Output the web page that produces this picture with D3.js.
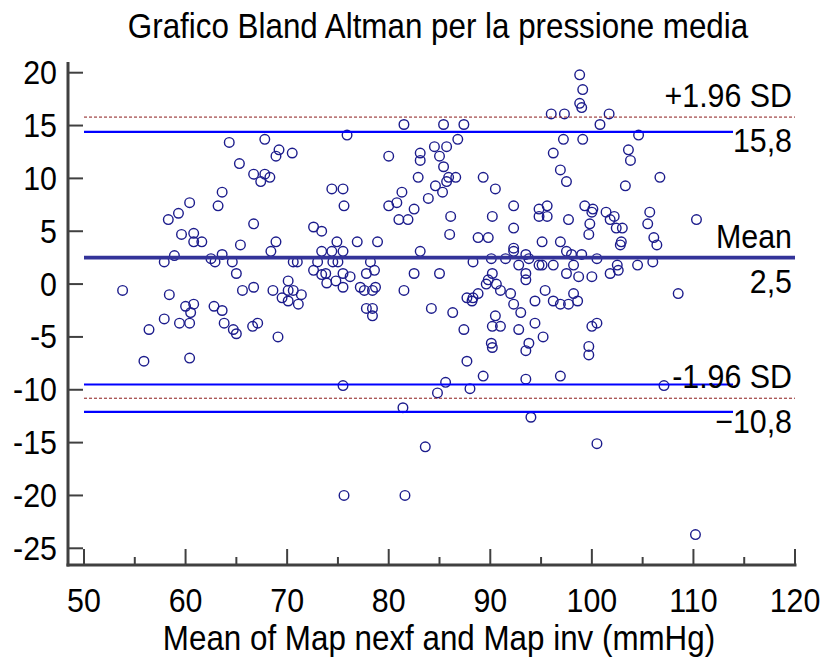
<!DOCTYPE html>
<html><head><meta charset="utf-8">
<script src="https://cdn.jsdelivr.net/npm/d3@7"></script>
<style>body{margin:0;background:#fff} svg text{font-family:"Liberation Sans",Arial,sans-serif;fill:#000}</style>
</head><body><svg id="c" width="824" height="657"></svg>
<script>
const titleText = "Grafico Bland Altman per la pressione media";
const xTitle = "Mean of Map nexf and Map inv (mmHg)";
const xTickValues = [50,60,70,80,90,100,110,120];
const xMinorTicks = [55,65,75,85,95,105,115];
const yTickValues = [-25,-20,-15,-10,-5,0,5,10,15,20];
const meanDiff = 2.5;
const upperLoA = 15.8;
const lowerLoA = -10.8;
const ciLines = [14.4, -9.5, -12.1];
const ciLineEnd = 113.9;

const meanX = [
64.3,67.8,69.2,68.9,70.5,65.3,66.7,67.8,68.3,67.4,63.6,63.2,60.4,59.3,58.3,66.7,59.6,60.8,60.8,61.6,
65.4,68.9,68.4,58.9,57.9,62.5,62.9,63.6,64.6,65.0,70.6,71.0,53.8,58.4,65.6,66.7,68.6,70.1,69.5,70.1,
70.6,70.1,71.4,71.1,60.0,60.8,62.8,63.6,
60.5,57.9,59.4,60.4,56.4,63.8,64.7,65.0,66.6,67.1,69.1,55.9,60.4,
75.9,81.5,85.4,87.4,86.8,85.7,84.5,85.0,83.1,83.1,80.0,85.4,82.9,85.9,86.6,85.7,84.6,85.3,83.9,89.3,
90.5,74.4,75.5,75.6,81.3,80.8,80.0,82.5,81.0,81.9,86.1,86.0,90.2,92.3,92.3,94.8,94.8,72.6,73.4,74.9,
76.9,78.9,88.8,89.8,92.3,
72.6,73.0,73.4,73.4,73.8,73.9,74.4,74.5,75.0,74.8,75.5,75.5,75.5,76.2,77.2,77.6,78.4,78.7,77.8,78.6,
78.2,83.1,82.5,85.0,81.5,88.3,90.1,91.5,92.3,92.8,93.5,93.8,93.5,93.5,94.8,90.2,89.8,89.6,90.6,91.0,
92.0,92.3,88.8,88.3,87.7,88.2,94.4,77.8,78.4,78.4,84.2,86.3,87.4,87.7,89.3,90.5,90.2,91.0,90.1,90.2,
92.8,93.0,94.4,93.8,93.5,93.5,75.5,85.6,84.8,88.0,81.4,94.0,83.6,75.6,81.6,
98.8,99.1,98.8,99.0,96.0,97.3,101.7,100.8,104.6,97.2,99.1,96.2,103.6,103.8,96.9,97.5,103.3,106.7,95.6,95.6,
97.7,99.3,100.1,100.0,101.4,102.2,101.8,102.4,103.0,99.8,99.7,105.7,105.5,106.1,106.4,110.3,102.9,102.8,96.9,95.1,
97.5,98.0,99.0,100.5,95.1,96.2,98.2,97.5,98.7,100.0,101.8,102.6,102.5,104.5,106.0,95.4,96.2,96.9,97.7,98.2,
98.6,95.2,100.0,100.5,99.7,99.7,96.9,107.1,108.5,100.5,110.2
];
const diffY = [
13.4,13.7,12.7,12.1,12.4,11.4,10.4,10.4,10.1,9.7,8.7,7.4,7.7,6.7,6.1,5.7,4.7,4.8,4.0,4.0,
3.7,4.0,3.1,2.7,2.1,2.4,2.1,2.8,2.1,1.0,2.1,2.1,-0.6,-1.0,-0.6,-0.3,-0.6,0.3,-1.3,-0.6,
-0.6,-1.6,-1.0,-1.9,-2.1,-1.9,-2.1,-2.5,
-2.7,-3.3,-3.7,-3.7,-4.3,-3.7,-4.3,-4.7,-4.0,-3.7,-5.0,-7.3,-7.0,
14.1,15.1,15.1,15.1,13.7,13.0,13.0,12.1,12.4,11.7,12.1,11.1,10.1,10.1,10.1,9.7,9.3,8.7,8.1,10.1,
9.0,9.0,9.0,7.4,8.7,7.7,7.4,7.1,6.1,6.1,6.4,4.7,6.4,7.4,5.3,7.1,6.4,5.4,5.0,4.0,
4.0,4.0,4.4,4.4,3.4,
1.3,2.1,3.1,0.9,1.0,0.1,3.1,2.1,2.1,0.3,3.1,1.0,-0.3,0.7,-0.3,-0.6,-0.6,-0.3,1.0,1.3,
2.1,3.1,1.0,1.0,-0.6,2.1,2.4,2.4,3.1,1.8,2.8,2.4,1.0,0.4,1.8,1.0,0.4,0.0,0.0,-0.6,
-0.9,-1.9,-0.9,-1.3,-1.3,-1.6,-1.6,-2.3,-2.3,-3.0,-2.3,-2.7,-4.3,-7.3,-8.7,-3.0,-4.0,-4.0,-5.6,-6.0,
-4.3,-2.7,-3.7,-5.6,-6.3,-9.0,-9.6,-9.3,-10.3,-9.9,-11.7,-12.6,-15.4,-20.0,-20.0,
19.8,18.4,17.1,16.7,16.1,16.1,16.1,15.1,14.1,13.7,13.7,12.4,12.7,11.7,10.8,9.7,9.3,10.1,7.4,6.4,
6.1,7.4,7.1,6.8,6.8,6.4,6.1,5.3,5.3,5.7,4.7,6.8,5.7,4.4,3.7,6.1,4.0,3.7,4.0,4.0,
3.1,2.8,2.8,2.4,1.8,1.8,1.8,1.0,0.7,0.7,1.0,1.3,1.8,1.8,2.1,-0.6,-1.6,-1.9,-1.9,-0.9,
-1.6,-5.0,-4.0,-3.7,-5.9,-6.7,-8.7,-9.6,-0.9,-15.1,-23.7
];

const fmt = v => d3.format(".1f")(v).replace(".", ",");
const svg = d3.select("#c");
const x = d3.scaleLinear().domain([50,120]).range([84,795]);
const y = d3.scaleLinear().domain([-25,20]).range([548.3,72.7]);
const axisColor = "#404040";
const axisX = 68, axisY = 565;
const SX = 0.98, SY = 1.08;

function addText(g, tx, ty, str, anchor, size) {
  return g.append("text").attr("x",0).attr("y",0)
    .attr("transform",`translate(${tx},${ty}) scale(${SX},${SY})`)
    .attr("text-anchor",anchor).attr("font-size",size).text(str);
}

// titles
addText(svg, 438, 38, titleText, "middle", 32);
addText(svg, 439, 650, xTitle, "middle", 32);

// axes lines
svg.append("line").attr("x1",axisX).attr("x2",axisX).attr("y1",62).attr("y2",axisY+1.5)
  .attr("stroke",axisColor).attr("stroke-width",3);
svg.append("line").attr("x1",axisX-1.5).attr("x2",x(120)+1.5).attr("y1",axisY).attr("y2",axisY)
  .attr("stroke",axisColor).attr("stroke-width",3);

// y ticks (inward)
svg.selectAll(".yt").data(yTickValues).join("line")
  .attr("x1",axisX).attr("x2",axisX+15).attr("y1",d=>y(d)).attr("y2",d=>y(d))
  .attr("stroke",axisColor).attr("stroke-width",2);
yTickValues.forEach(d => addText(svg, 57, y(d)+11.5, d, "end", 31));

// x ticks
svg.selectAll(".xt").data(xTickValues).join("line")
  .attr("x1",d=>x(d)).attr("x2",d=>x(d)).attr("y1",axisY).attr("y2",axisY-16)
  .attr("stroke",axisColor).attr("stroke-width",2);
svg.selectAll(".xm").data(xMinorTicks).join("line")
  .attr("x1",d=>x(d)).attr("x2",d=>x(d)).attr("y1",axisY).attr("y2",axisY-8)
  .attr("stroke",axisColor).attr("stroke-width",2);
xTickValues.forEach(d => addText(svg, x(d), 612, d, "middle", 31));

// points
const pts = meanX.map((m,i)=>({m, d: diffY[i]}));
svg.append("g").selectAll("circle").data(pts).join("circle")
  .attr("cx",p=>x(p.m)).attr("cy",p=>y(p.d)).attr("r",4.8)
  .attr("fill","none").attr("stroke","#1c1c8c").attr("stroke-width",1.4);

// reference lines
svg.selectAll(".ci").data(ciLines).join("line")
  .attr("x1",x(50)).attr("x2",x(ciLineEnd)).attr("y1",d=>y(d)).attr("y2",d=>y(d))
  .attr("stroke","#0000ff").attr("stroke-width",2.2);
svg.selectAll(".loa").data([upperLoA, lowerLoA]).join("line")
  .attr("x1",x(50)).attr("x2",x(120)).attr("y1",d=>y(d)).attr("y2",d=>y(d))
  .attr("stroke","#8b1a1a").attr("stroke-width",1).attr("stroke-dasharray","3,2");
svg.append("line").attr("x1",x(50)).attr("x2",x(120)).attr("y1",y(meanDiff)).attr("y2",y(meanDiff))
  .attr("stroke","#333399").attr("stroke-width",3.8);

// labels
const labels = [
  {v: upperLoA, above: "+1.96 SD"},
  {v: meanDiff, above: "Mean"},
  {v: lowerLoA, above: "-1.96 SD"}
];
labels.forEach(l => {
  addText(svg, 792, y(l.v)-10, l.above, "end", 31);
  addText(svg, 792, y(l.v)+35, fmt(l.v), "end", 31);
});
</script></body></html>
